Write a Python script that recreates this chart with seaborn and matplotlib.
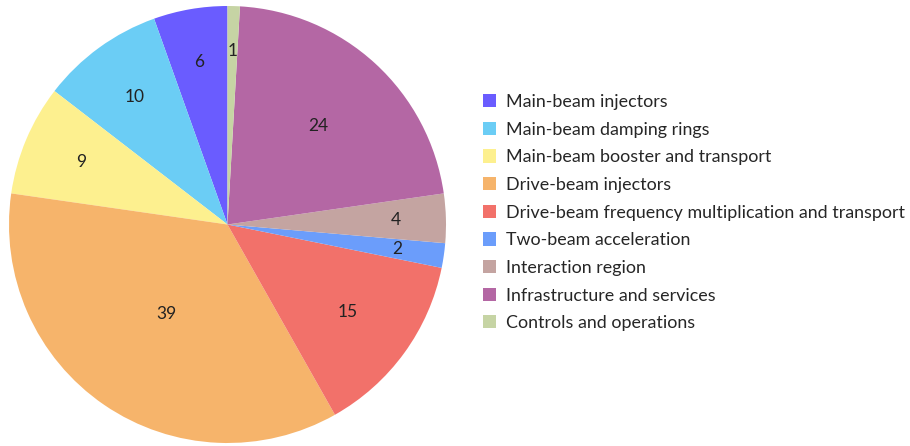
import numpy as np
import matplotlib
matplotlib.use('Agg')
import matplotlib.pyplot as plt
import seaborn as sns

categories = ['Main-beam injectors', 'Main-beam damping rings',
              'Main-beam booster and transport', 'Drive-beam injectors',
              'Drive-beam frequency multiplication and transport',
              'Two-beam acceleration', 'Interaction region',
              'Infrastructure and services', 'Controls and operations']
values = [6, 10, 9, 39, 15, 2, 4, 24, 1]
colors = ['#6a5cff', '#6bcdf5', '#fdf08f', '#f6b46b', '#f2716a',
          '#6b9dfb', '#c4a4a1', '#b467a4', '#c6d4a4']

sns.set_theme(style='white')
plt.rcParams['font.family'] = ['Lato', 'DejaVu Sans']

fig = plt.figure(figsize=(9.10, 4.46), dpi=100)
ax = fig.add_axes([9 / 910, 3 / 446, 437 / 910, 437 / 446])

wedges, _ = ax.pie(values, colors=colors, startangle=90, counterclock=True,
                   wedgeprops=dict(linewidth=0))
ax.set_xlim(-1, 1)
ax.set_ylim(-1, 1)
ax.set_aspect('equal')

# value labels: small slices sit further out, big ones further in
for w, v in zip(wedges, values):
    span = w.theta2 - w.theta1
    mid = np.deg2rad((w.theta1 + w.theta2) / 2)
    d = 0.8 - 0.0024 * span
    ax.text(d * np.cos(mid), d * np.sin(mid), str(v), ha='center',
            va='center', fontsize=12.5, color='#222222')

fig.legend(wedges, categories, loc='upper left',
           bbox_to_anchor=(483 / 910, 1 - 94 / 446), frameon=False,
           fontsize=12.9, handlelength=0.75, handleheight=0.75,
           handletextpad=0.55, labelspacing=0.65, borderaxespad=0,
           borderpad=0)

fig.savefig('out.png', dpi=100)
